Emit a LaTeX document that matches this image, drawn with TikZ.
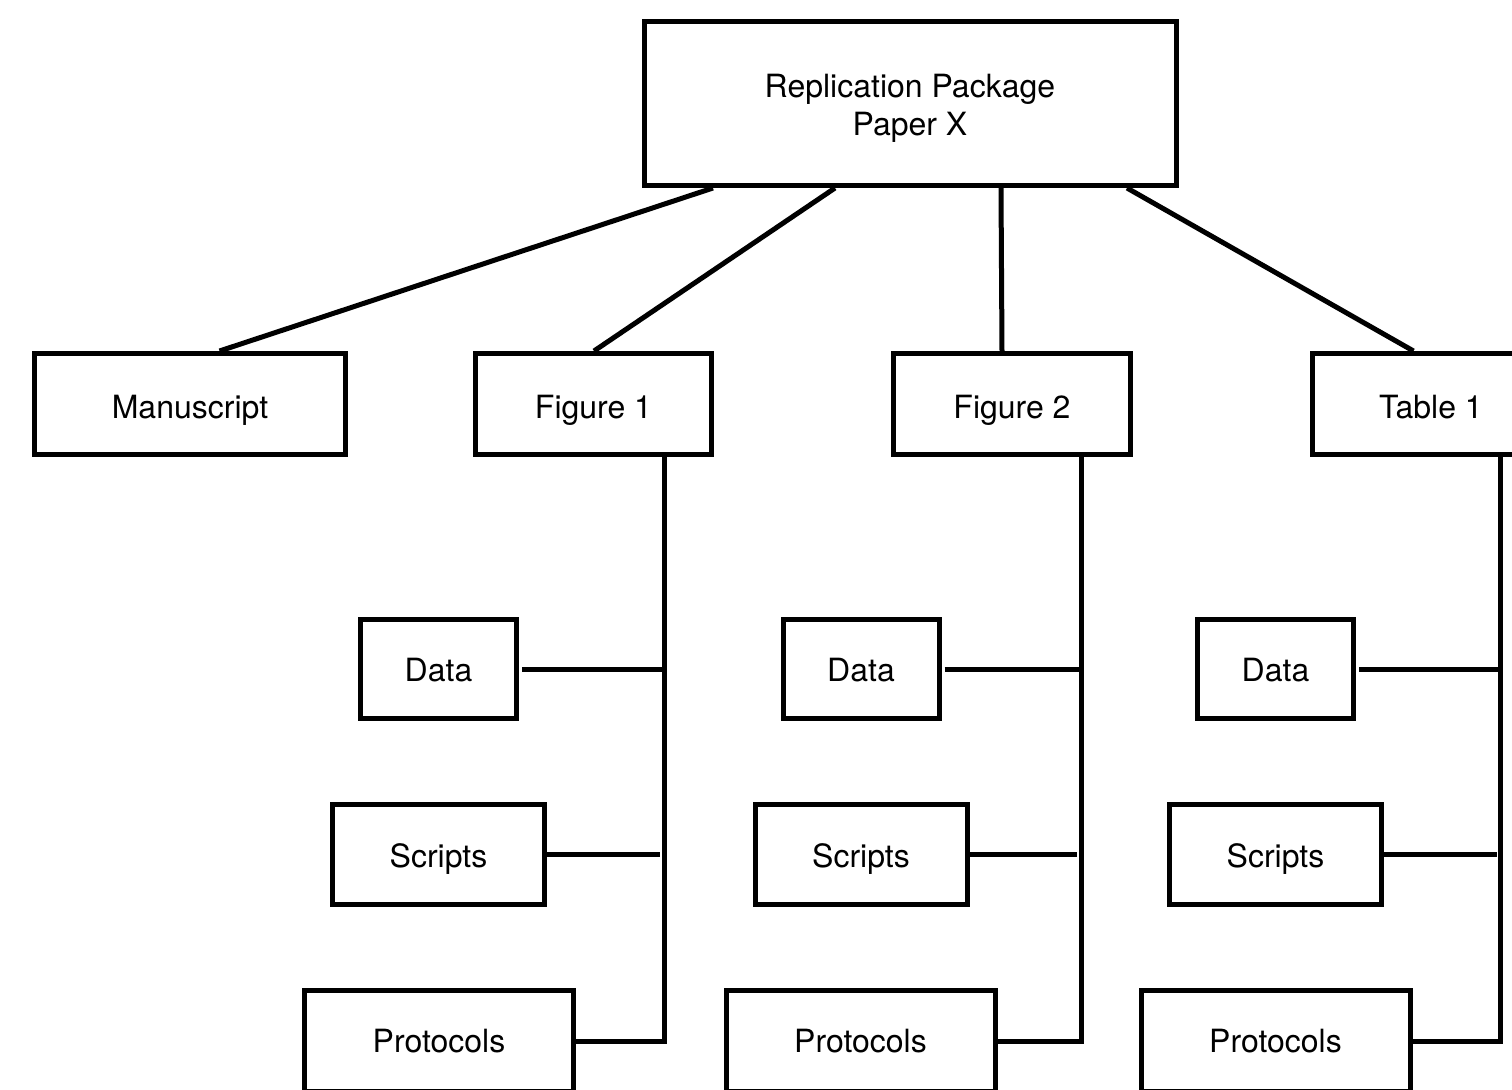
\documentclass[tikz,border=0pt]{standalone}
\usepackage{fontspec}
\setmainfont{TeX Gyre Heros}
\usetikzlibrary{calc}
\begin{document}
\begin{tikzpicture}[x=0.5pt,y=-0.5pt,
  box/.style={draw=black, line width=2.5pt, fill=white, rectangle,
    inner sep=0pt, align=center, font=\fontsize{16}{19}\selectfont,
    text height=11pt, text depth=0pt},
  link/.style={draw=black, line width=2.5pt}]
\useasboundingbox (0,0) rectangle (1512,1089);
\clip (0,0) rectangle (1512,1089);

% root
\node[box, minimum width=532*0.5pt, minimum height=164*0.5pt,
  text height=32pt, text depth=0pt] (root) at (910,103.5)
  {Replication Package\\Paper X};

% second level
\tikzset{midbox/.style={box, minimum height=101*0.5pt, text height=14pt, text depth=0pt}}
\node[midbox, minimum width=311*0.5pt] (ms) at (190,404) {Manuscript};
\node[midbox, minimum width=236*0.5pt] (f1) at (593.5,404) {Figure 1};
\node[midbox, minimum width=237*0.5pt] (f2) at (1012,404) {Figure 2};
\node[midbox, minimum width=237*0.5pt] (t1) at (1431,404) {Table 1};

% leaves
\tikzset{
  databox/.style={box, minimum width=156*0.5pt, minimum height=99*0.5pt, text height=12pt},
  scriptbox/.style={box, minimum width=212*0.5pt, minimum height=100*0.5pt, text height=12.5pt},
  protobox/.style={box, minimum width=269*0.5pt, minimum height=101*0.5pt}}
\node[databox]   (d1) at (438.5,669)  {Data};
\node[scriptbox] (s1) at (438.5,854.5) {Scripts};
\node[protobox]  (p1) at (439,1041)  {Protocols};
\node[databox]   (d2) at (861,669)    {Data};
\node[scriptbox] (s2) at (861,854.5)  {Scripts};
\node[protobox]  (p2) at (860.5,1041) {Protocols};
\node[databox]   (d3) at (1275.5,669) {Data};
\node[scriptbox] (s3) at (1275.5,854.5) {Scripts};
\node[protobox]  (p3) at (1275.5,1041) {Protocols};

% root to second level
\draw[link] ($(root.south west)+(71.5,0)$) -- ($(ms.north west)+(187.5,0)$);
\draw[link] ($(root.south west)+(193.5,0)$) -- ($(f1.north west)+(121,0)$);
\draw[link] ($(root.south west)+(359.5,0)$) -- ($(f2.north west)+(111,0)$);
\draw[link] ($(root.south west)+(485.5,0)$) -- ($(t1.north west)+(103.5,0)$);

% Figure 1 branch
\coordinate (v1) at ($(f1.south)+(70.5,0)$);
\draw[link, line join=miter] (v1) -- (v1 |- p1.east) -- (p1.east);
\draw[link] ($(d1.east)+(3,0)$) -- (v1 |- d1.east);
\draw[link] (s1.east) -- ($(v1 |- s1.east)+(-4,0)$);

% Figure 2 branch
\coordinate (v2) at ($(f2.south)+(69,0)$);
\draw[link, line join=miter] (v2) -- (v2 |- p2.east) -- ($(p2.east)+(-4,0)$);
\draw[link] ($(d2.east)+(3,0)$) -- (v2 |- d2.east);
\draw[link] (s2.east) -- ($(v2 |- s2.east)+(-4,0)$);

% Table 1 branch
\coordinate (v3) at ($(t1.south)+(69,0)$);
\draw[link, line join=miter] (v3) -- (v3 |- p3.east) -- (p3.east);
\draw[link] ($(d3.east)+(3,0)$) -- (v3 |- d3.east);
\draw[link] (s3.east) -- ($(v3 |- s3.east)+(-3,0)$);
\end{tikzpicture}
\end{document}
